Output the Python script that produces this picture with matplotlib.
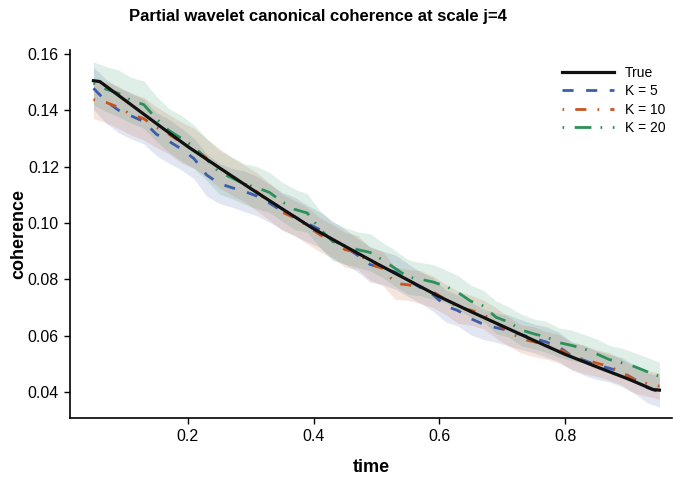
import numpy as np
import matplotlib
matplotlib.use('Agg')
import matplotlib.pyplot as plt

# 时间网格 (估计值)
t = np.round(np.arange(0.05, 0.951, 0.02), 2)

# 真实值
t_true = [0.05, 0.06, 0.10, 0.15, 0.20, 0.25, 0.30, 0.35, 0.40, 0.45, 0.50,
          0.55, 0.60, 0.65, 0.70, 0.75, 0.80, 0.85, 0.90, 0.94, 0.95]
coh_true = [0.1505, 0.1502, 0.1436, 0.1353, 0.1271, 0.1196, 0.1122, 0.1050,
            0.0979, 0.0917, 0.0856, 0.0797, 0.0738, 0.0685, 0.0634, 0.0583,
            0.0533, 0.0489, 0.0446, 0.0408, 0.0406]

# K = 5
coh_k5 = [0.1478, 0.1432, 0.1400, 0.1380, 0.1360, 0.1315, 0.1290, 0.1262,
          0.1228, 0.1170, 0.1140, 0.1125, 0.1112, 0.1095, 0.1070, 0.1042,
          0.1022, 0.0998, 0.0976, 0.0940, 0.0915, 0.0885, 0.0852, 0.0840,
          0.0825, 0.0797, 0.0770, 0.0745, 0.0705, 0.0688, 0.0660, 0.0640,
          0.0628, 0.0618, 0.0603, 0.0590, 0.0577, 0.0560, 0.0528, 0.0512,
          0.0495, 0.0484, 0.0470, 0.0445, 0.0415, 0.0400]
hw_k5 = [0.0075, 0.0078, 0.0080, 0.0082, 0.0079, 0.0076, 0.0078, 0.0074,
         0.0072, 0.0075, 0.0071, 0.0069, 0.0072, 0.0070, 0.0068, 0.0066,
         0.0069, 0.0065, 0.0063, 0.0066, 0.0062, 0.0060, 0.0063, 0.0059,
         0.0061, 0.0058, 0.0056, 0.0059, 0.0057, 0.0055, 0.0058, 0.0054,
         0.0052, 0.0055, 0.0053, 0.0051, 0.0054, 0.0052, 0.0050, 0.0053,
         0.0051, 0.0049, 0.0052, 0.0050, 0.0053, 0.0055]

# K = 10
coh_k10 = [0.1438, 0.1428, 0.1410, 0.1385, 0.1370, 0.1340, 0.1315, 0.1285,
           0.1265, 0.1230, 0.1195, 0.1165, 0.1140, 0.1110, 0.1075, 0.1038,
           0.1018, 0.0990, 0.0958, 0.0935, 0.0905, 0.0895, 0.0855, 0.0838,
           0.0785, 0.0780, 0.0772, 0.0755, 0.0728, 0.0700, 0.0690, 0.0675,
           0.0645, 0.0615, 0.0588, 0.0578, 0.0565, 0.0553, 0.0528, 0.0515,
           0.0502, 0.0490, 0.0470, 0.0443, 0.0430, 0.0420]
hw_k10 = [0.0068, 0.0072, 0.0075, 0.0073, 0.0076, 0.0072, 0.0070, 0.0073,
          0.0071, 0.0068, 0.0070, 0.0067, 0.0065, 0.0068, 0.0066, 0.0064,
          0.0062, 0.0065, 0.0061, 0.0059, 0.0062, 0.0060, 0.0058, 0.0061,
          0.0057, 0.0055, 0.0058, 0.0056, 0.0054, 0.0057, 0.0053, 0.0051,
          0.0054, 0.0052, 0.0050, 0.0053, 0.0049, 0.0051, 0.0048, 0.0050,
          0.0047, 0.0049, 0.0046, 0.0048, 0.0045, 0.0047]

# K = 20
coh_k20 = [0.1496, 0.1475, 0.1460, 0.1435, 0.1420, 0.1370, 0.1328, 0.1300,
           0.1270, 0.1225, 0.1180, 0.1160, 0.1138, 0.1125, 0.1108, 0.1075,
           0.1048, 0.1035, 0.0978, 0.0935, 0.0918, 0.0905, 0.0895, 0.0868,
           0.0838, 0.0808, 0.0800, 0.0790, 0.0775, 0.0752, 0.0722, 0.0705,
           0.0665, 0.0648, 0.0620, 0.0606, 0.0595, 0.0575, 0.0565, 0.0553,
           0.0535, 0.0515, 0.0503, 0.0490, 0.0472, 0.0455]
hw_k20 = [0.0076, 0.0080, 0.0083, 0.0081, 0.0084, 0.0080, 0.0078, 0.0081,
          0.0077, 0.0075, 0.0078, 0.0074, 0.0072, 0.0075, 0.0071, 0.0069,
          0.0072, 0.0068, 0.0066, 0.0069, 0.0065, 0.0063, 0.0066, 0.0062,
          0.0064, 0.0061, 0.0059, 0.0062, 0.0058, 0.0060, 0.0057, 0.0055,
          0.0058, 0.0054, 0.0056, 0.0053, 0.0055, 0.0052, 0.0054, 0.0051,
          0.0053, 0.0050, 0.0052, 0.0049, 0.0051, 0.0050]

labels = ['True', 'K = 5', 'K = 10', 'K = 20']
colors = ['#111111', '#3a5dae', '#c9541f', '#2a9158']

plt.rcParams['font.family'] = ['Liberation Sans', 'DejaVu Sans']

fig = plt.figure(figsize=(6.73, 4.79), dpi=100)
ax = fig.add_axes([70 / 673, 61 / 479, 602 / 673, 368 / 479])

series = [
    (coh_k5, hw_k5, colors[1], (0, (4, 4.5))),
    (coh_k10, hw_k10, colors[2], (0, (0.6, 4, 4, 4))),
    (coh_k20, hw_k20, colors[3], (0, (0.6, 3.8, 6, 3.3))),
]

# 置信带
for mean, hw, c, ls in series:
    mean = np.array(mean)
    hw = np.array(hw)
    ax.fill_between(t, mean - hw, mean + hw, color=c, alpha=0.15, linewidth=0)

# 真实曲线
ax.plot(t_true, coh_true, color=colors[0], lw=2.3, label=labels[0], zorder=5)

for (mean, hw, c, ls), lab in zip(series, labels[1:]):
    ax.plot(t, mean, color=c, lw=2.0, linestyle=ls, label=lab, zorder=4)

ax.set_xlim(0.0127, 0.97)
ax.set_ylim(0.0307, 0.1614)
ax.set_xticks([0.2, 0.4, 0.6, 0.8])
ax.set_yticks([0.04, 0.06, 0.08, 0.10, 0.12, 0.14, 0.16])
ax.set_xticklabels(['0.2', '0.4', '0.6', '0.8'])
ax.set_yticklabels(['0.04', '0.06', '0.08', '0.10', '0.12', '0.14', '0.16'])
ax.tick_params(labelsize=11.5, length=4, width=1.0, pad=4)
for s in ['top', 'right']:
    ax.spines[s].set_visible(False)
for s in ['left', 'bottom']:
    ax.spines[s].set_linewidth(1.2)

ax.set_xlabel('time', fontsize=13, fontweight='bold', labelpad=11)
ax.set_ylabel('coherence', fontsize=13, fontweight='bold', labelpad=0)
fig.text(318 / 673, 1 - 17 / 479, 'Partial wavelet canonical coherence at scale j=4',
         ha='center', va='center', fontsize=12, fontweight='bold')

ax.legend(loc='upper right', bbox_to_anchor=(1.01, 0.99), frameon=False,
          fontsize=10, handlelength=3.7, labelspacing=0.3, handletextpad=0.8)

fig.savefig('out.png', dpi=100)
